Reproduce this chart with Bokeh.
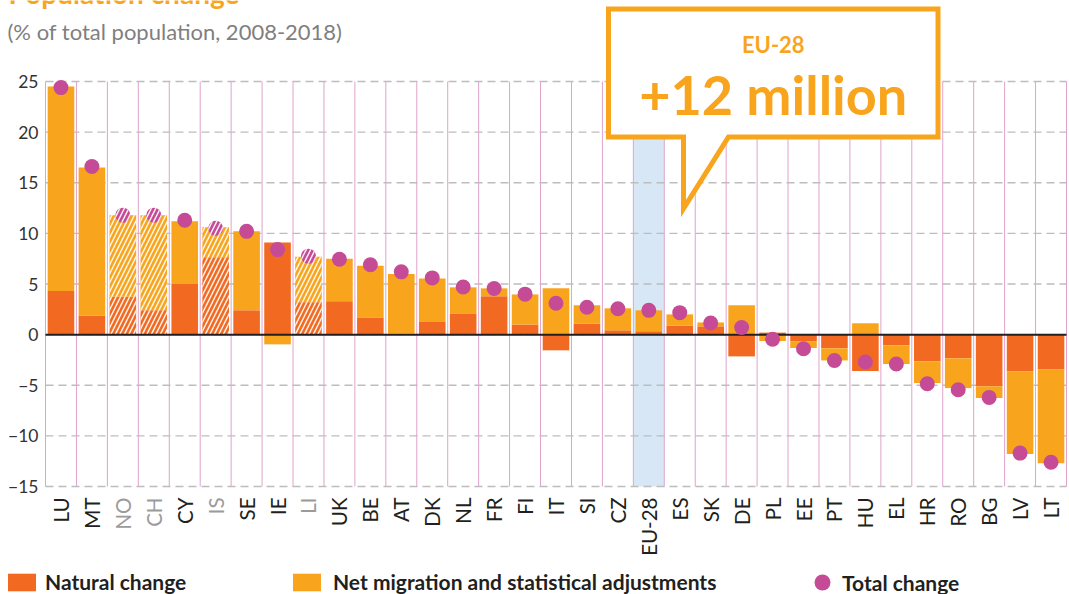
import numpy as np
from bokeh.plotting import figure
from bokeh.models import (ColumnDataSource, Range1d, Label, PolyAnnotation,
                          Legend, LegendItem)
from bokeh.core.properties import value
from bokeh.embed import file_html
from bokeh.resources import INLINE

# ---------------- data ----------------
countries = ["LU", "MT", "NO", "CH", "CY", "IS", "SE", "IE", "LI", "UK", "BE", "AT",
             "DK", "NL", "FR", "FI", "IT", "SI", "CZ", "EU-28", "ES", "SK", "DE", "PL",
             "EE", "PT", "HU", "EL", "HR", "RO", "BG", "LV", "LT"]
natural = [4.3, 1.9, 3.75, 2.4, 5.0, 7.65, 2.4, 9.1, 3.2, 3.3, 1.7, 0.1,
           1.25, 2.1, 3.8, 1.0, -1.55, 1.1, 0.43, 0.33, 0.9, 0.82, -2.15, 0.2,
           -0.65, -1.35, -3.6, -1.06, -2.64, -2.34, -5.1, -3.63, -3.43]
migration = [20.2, 14.6, 8.05, 9.4, 6.2, 2.95, 7.8, -0.96, 4.5, 4.2, 5.1, 5.9,
             4.3, 2.57, 0.77, 2.97, 4.57, 1.8, 2.17, 2.07, 1.1, 0.38, 2.9, -0.63,
             -0.67, -1.2, 1.12, -1.84, -2.14, -2.94, -1.16, -8.17, -9.27]
total = [24.4, 16.6, 11.8, 11.8, 11.3, 10.5, 10.2, 8.4, 7.75, 7.45, 6.9, 6.2,
         5.6, 4.7, 4.55, 4.0, 3.1, 2.7, 2.55, 2.4, 2.17, 1.15, 0.7, -0.45,
         -1.4, -2.55, -2.7, -2.9, -4.85, -5.44, -6.2, -11.7, -12.6]
non_eu = ["NO", "CH", "IS", "LI"]
highlight = "EU-28"
y_ticks = [-15, -10, -5, 0, 5, 10, 15, 20, 25]

title_text = "Population change"
subtitle_text = "(% of total population, 2008-2018)"
callout_small = "EU-28"
callout_big = "+12 million"
legend_labels = ["Natural change", "Net migration and statistical adjustments", "Total change"]

# ---------------- style / layout ----------------
C_NAT = "#F26A21"
C_MIG = "#F8A51D"
C_TOT = "#C54B97"
C_TXT = "#231F20"
C_GRAY = "#9B9B9B"
FONT = "Lato"

W, H = 1069, 594
FL, FR, FT, FBOT = 45, 1066, 81, 486   # plotting area inside the canvas (px)
n = len(countries)
YMIN, YMAX = y_ticks[0], y_ticks[-1]
CW = (FR - FL) / n                      # px per category
PPU = (FBOT - FT) / (YMAX - YMIN)       # px per unit


def dx(cx):   # canvas px -> data x
    return (cx - FL) / CW


def dy(cy):   # canvas px -> data y
    return YMAX - (cy - FT) / PPU


nat = np.array(natural)
mig = np.array(migration)
same = np.sign(nat) == np.sign(mig)
mig_bottom = np.where(same, nat, 0.0)
mig_top = mig_bottom + mig
xc = np.arange(n) + 0.5
hatch = ["/" if c in non_eu else " " for c in countries]
label_color = [C_GRAY if c in non_eu else C_TXT for c in countries]

src = ColumnDataSource(dict(x=xc, nat=nat, mig_b=mig_bottom, mig_t=mig_top,
                            tot=total, hatch=hatch, name=countries, lc=label_color))

p = figure(width=W, height=H, x_range=Range1d(dx(0), dx(W)), y_range=Range1d(dy(H), dy(0)),
           output_backend="svg", toolbar_location=None,
           x_axis_location=None, y_axis_location=None,
           min_border=0, min_border_left=0, min_border_right=0,
           min_border_top=0, min_border_bottom=0)
p.outline_line_color = None
p.grid.visible = False
p.background_fill_color = "white"

# highlighted column
hi = countries.index(highlight)
p.vbar(x=[hi + 0.5], width=1, top=YMAX, bottom=YMIN, fill_color="#D7E7F5", line_color=None)

# grid lines
bounds = list(range(n + 1))
p.segment(x0=bounds, x1=bounds, y0=YMIN, y1=YMAX, line_color="#E0A3CB", line_width=1)
p.segment(x0=0, x1=n, y0=y_ticks, y1=y_ticks, line_color="#BDBDBD",
          line_dash="8 5", line_width=1.3)

# y tick labels
tick_text = [("\u2212%d" % -t if t < 0 else str(t)) for t in y_ticks]
p.text(x=dx(FL - 7), y=y_ticks, text=tick_text, text_align="right", text_baseline="middle",
       text_font=value(FONT), text_font_size="17.5px", text_color="#333333")

hatch_kw = dict(hatch_pattern="hatch", hatch_color="white", hatch_scale=9,
                hatch_weight=1.5, hatch_alpha=0.9)
r_nat = p.vbar(x="x", width=0.86, bottom=0, top="nat", source=src,
               fill_color=C_NAT, line_color=None, **hatch_kw)
r_mig = p.vbar(x="x", width=0.86, bottom="mig_b", top="mig_t", source=src,
               fill_color=C_MIG, line_color=None, **hatch_kw)
p.segment(x0=0, x1=n, y0=0, y1=0, line_color=C_TXT, line_width=2)
r_tot = p.scatter(x="x", y="tot", size=15, source=src, fill_color=C_TOT,
                  line_color=None, **hatch_kw)

# category labels
p.text(x="x", y=dy(FBOT + 11), text="name", source=src, angle=np.pi / 2,
       text_align="right", text_baseline="middle",
       text_font=value(FONT), text_font_size="20.5px", text_color="lc")

# title (cut off at the top edge, as in the original) / subtitle
p.add_layout(Label(x=dx(8), y=dy(-8), text=title_text, text_align="left",
                   text_baseline="alphabetic", text_font=FONT, text_font_style="bold",
                   text_font_size="28px", text_color=C_MIG))
p.add_layout(Label(x=dx(7), y=dy(31), text=subtitle_text, text_align="left",
                   text_baseline="middle", text_font=FONT, text_font_size="22px",
                   text_color="#7F7F7F"))

# callout
bx0, bx1, by0, by1 = dx(608), dx(937.5), dy(8.5), dy(136.5)
tx0, tx1, ty = dx(683), dx(728), dy(208)
p.add_layout(PolyAnnotation(xs=[bx0, bx1, bx1, tx1, tx0, tx0, bx0],
                            ys=[by0, by0, by1, by1, ty, by1, by1],
                            xs_units="data", ys_units="data",
                            fill_color="white", fill_alpha=1.0,
                            line_color=C_MIG, line_alpha=1.0, line_width=5,
                            line_join="miter"))
cx = (bx0 + bx1) / 2
p.add_layout(Label(x=cx, y=dy(44), text=callout_small, text_align="center",
                   text_baseline="middle", text_font=FONT, text_font_style="bold",
                   text_font_size="22px", text_color=C_MIG))
p.add_layout(Label(x=cx, y=dy(94), text=callout_big, text_align="center",
                   text_baseline="middle", text_font=FONT, text_font_style="bold",
                   text_font_size="54px", text_color=C_MIG))


# legends
def add_legend(label, rend, vx, vy, gw, gh, standoff):
    leg = Legend(items=[LegendItem(label=label, renderers=[rend])],
                 location=(float(vx), float(vy)),
                 orientation="horizontal", border_line_color=None,
                 background_fill_alpha=0, padding=0, margin=0, spacing=0,
                 glyph_width=int(gw), glyph_height=int(gh), label_standoff=int(standoff),
                 label_text_font=FONT, label_text_font_style="bold",
                 label_text_font_size="21px", label_text_color=C_TXT)
    p.add_layout(leg, "center")


LEG_C = 582
add_legend(legend_labels[0], r_nat, 4, H - (LEG_C + 12), 35, 22, 6)
add_legend(legend_labels[1], r_mig, 289, H - (LEG_C + 12), 35, 22, 9)
add_legend(legend_labels[2], r_tot, 802, H - (LEG_C + 20), 40, 40, 0)

open("out.html", "w").write(file_html(p, INLINE))
